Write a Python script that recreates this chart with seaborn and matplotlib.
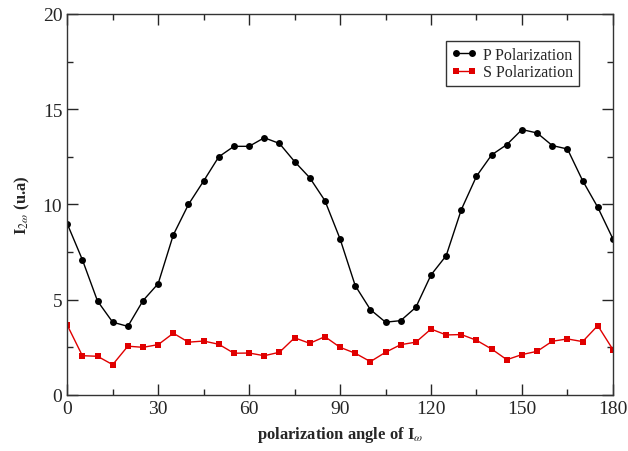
import numpy as np
import pandas as pd
import matplotlib
matplotlib.use("Agg")
import matplotlib.pyplot as plt
from matplotlib.ticker import MultipleLocator
import seaborn as sns

# polarization angle (deg)
angle = list(range(0, 181, 5))

p_pol = [8.99, 7.1, 4.93, 3.82, 3.6, 4.95, 5.84, 8.4, 10.0, 11.23,
         12.5, 13.05, 13.05, 13.5, 13.2, 12.25, 11.4, 10.2, 8.19, 5.74,
         4.48, 3.82, 3.9, 4.6, 6.3, 7.31, 9.73, 11.48, 12.6, 13.14,
         13.93, 13.75, 13.09, 12.91, 11.25, 9.85, 8.19]

s_pol = [3.67, 2.06, 2.03, 1.59, 2.56, 2.5, 2.64, 3.24, 2.77, 2.83,
         2.66, 2.19, 2.2, 2.06, 2.24, 3.0, 2.71, 3.06, 2.5, 2.19,
         1.75, 2.24, 2.64, 2.77, 3.46, 3.15, 3.17, 2.87, 2.41, 1.85,
         2.12, 2.29, 2.82, 2.94, 2.8, 3.64, 2.38]

df = pd.DataFrame({"angle": angle, "P": p_pol, "S": s_pol})

sns.set_style("ticks")
plt.rcParams["font.family"] = ["Liberation Serif", "DejaVu Serif"]
plt.rcParams["mathtext.fontset"] = "stix"

fig = plt.figure(figsize=(6.28, 4.52), dpi=100)
ax = fig.add_axes([0.107, 0.124, 0.869, 0.843])

sns.lineplot(data=df, x="angle", y="P", ax=ax, color="black", lw=1,
             marker="o", markersize=5, markeredgewidth=0, label="P Polarization")
sns.lineplot(data=df, x="angle", y="S", ax=ax, color="#e00000", lw=1,
             marker="s", markersize=4, markeredgewidth=0, label="S Polarization")

ax.set_xlim(0, 180)
ax.set_ylim(0, 20)
ax.xaxis.set_major_locator(MultipleLocator(30))
ax.xaxis.set_minor_locator(MultipleLocator(15))
ax.yaxis.set_major_locator(MultipleLocator(5))
ax.yaxis.set_minor_locator(MultipleLocator(2.5))
ax.tick_params(which="both", direction="in", top=True, right=True, width=1)
ax.tick_params(which="major", length=8, labelsize=14)
ax.tick_params(which="minor", length=4)
for s in ax.spines.values():
    s.set_linewidth(1)
    s.set_color("#333333")

ax.set_xlabel(r"polarization angle of I$_{\omega}$", fontsize=12, fontweight="bold", labelpad=5)
ax.set_ylabel(r"I$_{2\omega}$ (u.a)", fontsize=12, fontweight="bold", labelpad=8)

leg = ax.legend(loc="upper right", bbox_to_anchor=(0.938, 0.929), frameon=True,
                fancybox=False, edgecolor="black", fontsize=11.5, numpoints=2,
                handlelength=1.6, borderpad=0.35, labelspacing=0.12,
                handletextpad=0.4, borderaxespad=0)
leg.get_frame().set_linewidth(1)

fig.savefig("out.png", dpi=100)
